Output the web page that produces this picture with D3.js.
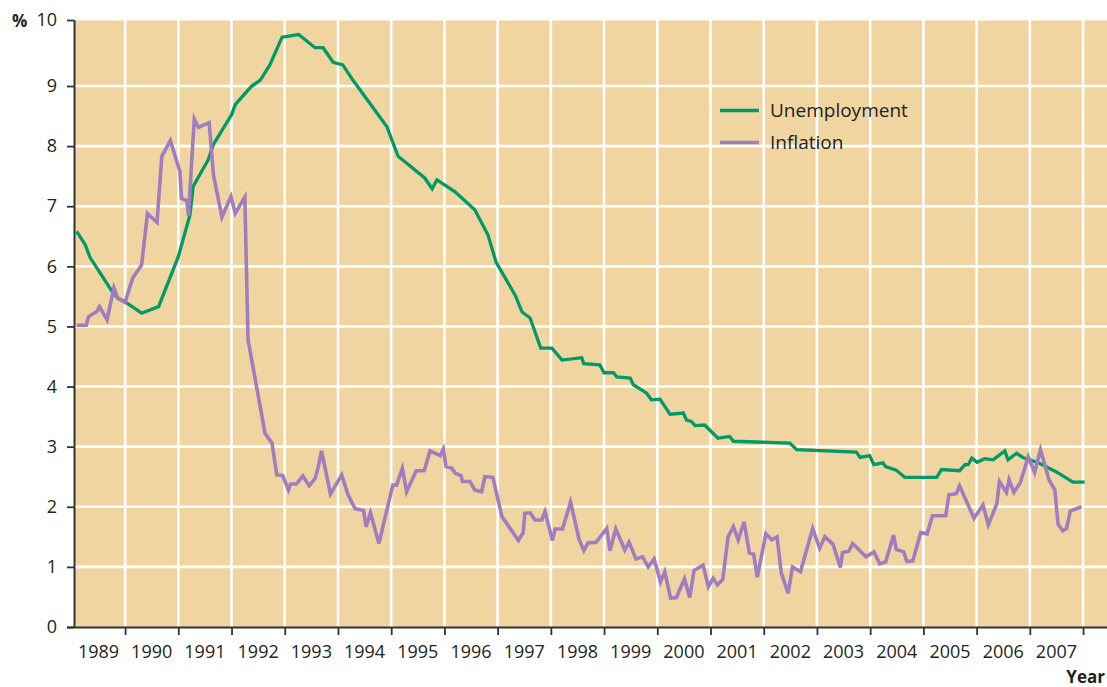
<!DOCTYPE html>
<html><head><meta charset="utf-8">
<script src="https://cdn.jsdelivr.net/npm/d3@7/dist/d3.min.js"></script>
<style>
html,body{margin:0;padding:0;background:#fff;}
text{font-family:"Open Sans",sans-serif;fill:#231f20;}
</style></head>
<body>
<svg id="chart" width="1107" height="687"></svg>
<script>
// ---- data (decimal year, percent) ----
const unempYears = [1989.09,1989.25,1989.34,1989.78,1989.87,1990.03,1990.31,1990.63,1991.00,1991.22,1991.28,1991.56,1991.66,1992.00,1992.07,1992.37,1992.54,1992.72,1992.95,1993.26,1993.57,1993.72,1993.91,1994.09,1994.28,1994.92,1995.13,1995.63,1995.77,1995.86,1996.20,1996.57,1996.82,1996.97,1997.33,1997.46,1997.61,1997.81,1998.02,1998.21,1998.58,1998.62,1998.92,1999.00,1999.18,1999.24,1999.49,1999.55,1999.80,1999.89,2000.05,2000.24,2000.49,2000.55,2000.64,2000.71,2000.89,2001.14,2001.36,2001.43,2002.49,2002.62,2003.74,2003.81,2003.99,2004.07,2004.24,2004.29,2004.49,2004.65,2005.25,2005.34,2005.68,2005.78,2005.84,2005.91,2006.01,2006.15,2006.31,2006.53,2006.59,2006.75,2006.87,2007.19,2007.50,2007.81,2008.03];
const unempValues = [6.58,6.36,6.15,5.55,5.47,5.39,5.22,5.33,6.16,6.86,7.33,7.77,8.03,8.52,8.69,8.99,9.09,9.32,9.74,9.78,9.58,9.58,9.36,9.32,9.09,8.32,7.83,7.47,7.29,7.44,7.24,6.94,6.52,6.07,5.52,5.24,5.14,4.64,4.64,4.44,4.48,4.38,4.36,4.23,4.23,4.16,4.14,4.03,3.89,3.78,3.79,3.54,3.56,3.44,3.42,3.35,3.36,3.14,3.17,3.09,3.06,2.95,2.91,2.82,2.85,2.70,2.73,2.67,2.61,2.49,2.49,2.62,2.60,2.70,2.70,2.81,2.74,2.80,2.78,2.93,2.78,2.89,2.82,2.72,2.58,2.41,2.41];

const inflYears = [1989.09,1989.27,1989.31,1989.47,1989.52,1989.66,1989.79,1989.86,1990.00,1990.14,1990.31,1990.42,1990.60,1990.69,1990.85,1991.03,1991.06,1991.16,1991.19,1991.30,1991.38,1991.58,1991.66,1991.82,1991.99,1992.07,1992.25,1992.31,1992.63,1992.76,1992.85,1992.96,1993.07,1993.11,1993.22,1993.34,1993.46,1993.57,1993.63,1993.69,1993.86,1994.07,1994.19,1994.32,1994.48,1994.53,1994.61,1994.77,1995.03,1995.10,1995.21,1995.29,1995.47,1995.62,1995.73,1995.92,1995.98,1996.03,1996.14,1996.20,1996.31,1996.34,1996.48,1996.57,1996.70,1996.76,1996.91,1997.08,1997.39,1997.48,1997.51,1997.61,1997.70,1997.83,1997.89,1998.03,1998.08,1998.22,1998.37,1998.53,1998.62,1998.70,1998.85,1999.05,1999.11,1999.22,1999.39,1999.47,1999.60,1999.72,1999.83,1999.94,2000.06,2000.14,2000.25,2000.36,2000.51,2000.61,2000.69,2000.86,2000.96,2001.05,2001.13,2001.23,2001.33,2001.43,2001.52,2001.63,2001.73,2001.81,2001.88,2002.04,2002.15,2002.25,2002.33,2002.46,2002.54,2002.69,2002.92,2003.05,2003.15,2003.30,2003.44,2003.48,2003.60,2003.67,2003.92,2004.07,2004.18,2004.29,2004.44,2004.49,2004.63,2004.69,2004.80,2004.95,2005.07,2005.17,2005.42,2005.48,2005.62,2005.68,2005.95,2006.12,2006.22,2006.38,2006.43,2006.56,2006.61,2006.70,2006.82,2006.97,2007.09,2007.20,2007.36,2007.47,2007.53,2007.62,2007.69,2007.76,2007.97];
const inflValues = [5.02,5.02,5.16,5.25,5.33,5.11,5.64,5.47,5.40,5.80,6.02,6.88,6.73,7.83,8.09,7.58,7.13,7.09,6.84,8.45,8.31,8.39,7.52,6.82,7.16,6.88,7.15,4.78,3.22,3.06,2.53,2.52,2.28,2.38,2.38,2.51,2.35,2.47,2.66,2.93,2.21,2.53,2.20,1.97,1.94,1.67,1.90,1.39,2.36,2.36,2.64,2.25,2.60,2.60,2.93,2.85,2.96,2.67,2.64,2.56,2.52,2.42,2.42,2.28,2.25,2.50,2.49,1.84,1.44,1.57,1.89,1.90,1.78,1.78,1.92,1.44,1.63,1.63,2.08,1.46,1.27,1.40,1.41,1.64,1.27,1.63,1.28,1.41,1.13,1.17,1.00,1.13,0.75,0.92,0.48,0.49,0.80,0.49,0.94,1.03,0.67,0.81,0.70,0.79,1.50,1.67,1.45,1.75,1.23,1.21,0.83,1.55,1.45,1.50,0.90,0.56,1.00,0.92,1.64,1.31,1.50,1.38,0.99,1.24,1.26,1.39,1.17,1.25,1.05,1.08,1.53,1.29,1.25,1.09,1.10,1.57,1.55,1.85,1.85,2.20,2.22,2.35,1.81,2.03,1.70,2.05,2.42,2.24,2.45,2.24,2.40,2.83,2.57,2.95,2.45,2.28,1.71,1.60,1.64,1.93,2.00];

const yearLabels = ["1989","1990","1991","1992","1993","1994","1995","1996","1997","1998","1999","2000","2001","2002","2003","2004","2005","2006","2007"];
const yearBoundaries = [1990,1991,1992,1993,1994,1995,1996,1997,1998,1999,2000,2001,2002,2003,2004,2005,2006,2007,2008];
const yTicks = [0,1,2,3,4,5,6,7,8,9,10];
const seriesNames = ["Unemployment","Inflation"];
const seriesColors = ["#009a68","#a07dc0"];

// ---- layout ----
const svg = d3.select("#chart");
const plotL = 74, plotR = 1107, plotT = 20, plotB = 627;
const x = d3.scaleLinear().domain([1989.04, 2008.45]).range([plotL, plotR]);
const y = d3.scaleLinear().domain([0, 9, 10]).range([plotB, 86, plotT]);

// background
svg.append("rect").attr("x", plotL + 1).attr("y", plotT + 0.5)
  .attr("width", plotR - plotL - 1).attr("height", plotB - plotT - 0.5)
  .attr("fill", "#f0d5a0");

// grid
const grid = svg.append("g");
grid.selectAll("line.h").data(yTicks.filter(d => d > 0 && d < 10)).join("line")
  .attr("x1", plotL + 1).attr("x2", plotR)
  .attr("y1", d => y(d)).attr("y2", d => y(d))
  .attr("stroke", "#fff").attr("stroke-width", 2.6);
grid.selectAll("line.v").data(yearBoundaries).join("line")
  .attr("x1", d => x(d)).attr("x2", d => x(d))
  .attr("y1", plotT).attr("y2", plotB)
  .attr("stroke", "#fff").attr("stroke-width", 2.6);

// axes
const yAxis = svg.append("g").attr("transform", `translate(${plotL},0)`)
  .call(d3.axisLeft(y).tickValues(yTicks).tickSize(7).tickPadding(10).tickFormat(d3.format("d")));
const xAxis = svg.append("g").attr("transform", `translate(0,${plotB})`)
  .call(d3.axisBottom(x).tickValues(yearBoundaries).tickSize(8).tickFormat(""));
[yAxis, xAxis].forEach(g => {
  g.select(".domain").attr("stroke", "#333").attr("stroke-width", 2);
  g.selectAll(".tick line").attr("stroke", "#333").attr("stroke-width", 1.8);
});
xAxis.select(".domain").attr("d", `M${plotL - 7},0.5H${plotR}`);
yAxis.select(".domain").attr("d", `M0.5,${plotT}V${plotB}`);
yAxis.selectAll(".tick text").attr("font-size", 18).attr("font-family", "Open Sans").attr("fill", "#231f20");

svg.append("g").selectAll("text").data(yearLabels).join("text")
  .attr("x", d => x(+d + 0.5)).attr("y", 658)
  .attr("text-anchor", "middle").attr("font-size", 18).text(d => d);

// lines
const line = d3.line().x(d => x(d[0])).y(d => y(d[1]));
const series = [
  d3.zip(unempYears, unempValues),
  d3.zip(inflYears, inflValues)
];
svg.append("path").datum(series[0]).attr("d", line)
  .attr("fill", "none").attr("stroke", seriesColors[0]).attr("stroke-width", 3.3)
  .attr("stroke-linejoin", "miter");
svg.append("path").datum(series[1]).attr("d", line)
  .attr("fill", "none").attr("stroke", seriesColors[1]).attr("stroke-width", 3.6)
  .attr("stroke-linejoin", "miter");

// legend
const legend = svg.append("g").attr("transform", "translate(720,110)");
seriesNames.forEach((name, i) => {
  const g = legend.append("g").attr("transform", `translate(0,${i * 32})`);
  g.append("line").attr("x1", 0).attr("x2", 39).attr("y1", 0.5).attr("y2", 0.5)
    .attr("stroke", seriesColors[i]).attr("stroke-width", 3.5);
  g.append("text").attr("x", 50).attr("y", 0).attr("dy", "0.35em")
    .attr("font-size", 19).text(name);
});

// titles
svg.append("text").attr("x", 12).attr("y", 27).attr("font-size", 17)
  .attr("font-weight", "bold").text("%");
svg.append("text").attr("x", 1105).attr("y", 683).attr("text-anchor", "end")
  .attr("font-size", 17).attr("font-weight", "bold").text("Year");
</script>
</body></html>
